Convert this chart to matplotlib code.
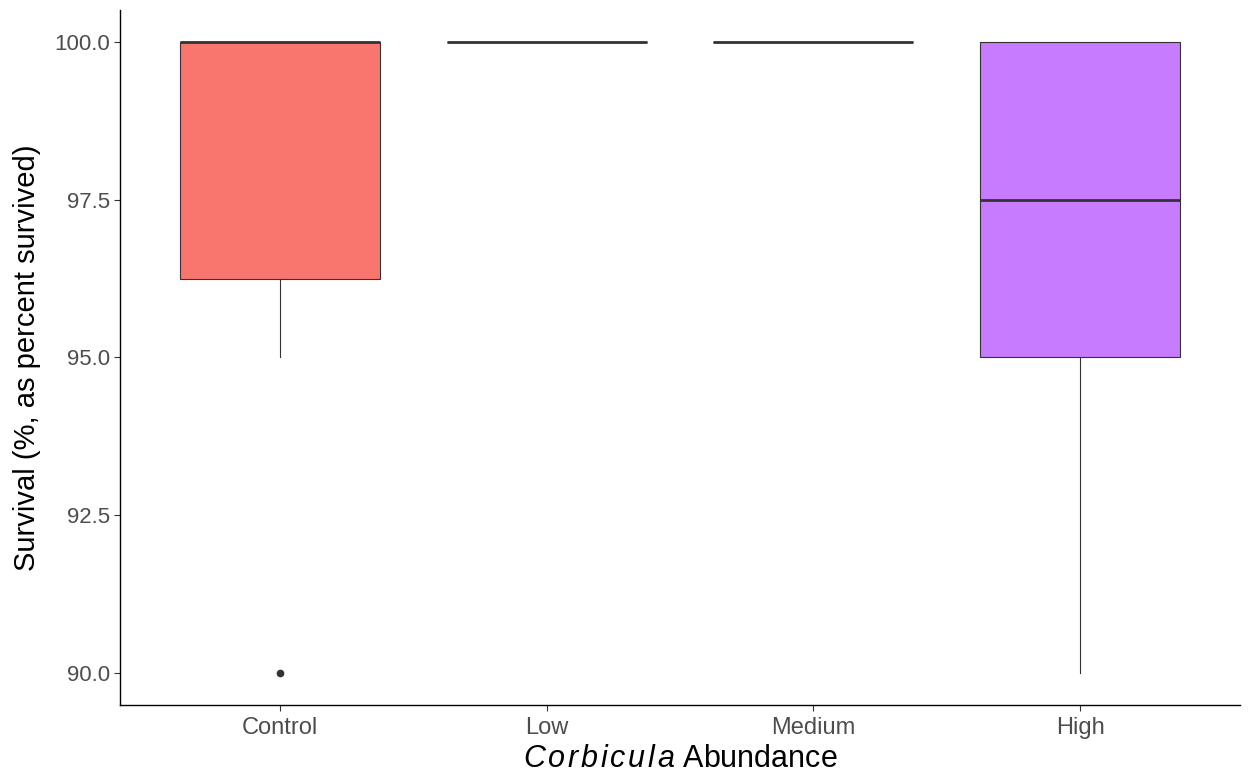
import matplotlib.pyplot as plt

plt.rcParams['font.family'] = ['Liberation Sans', 'DejaVu Sans']
plt.rcParams['mathtext.fontset'] = 'custom'
plt.rcParams['mathtext.it'] = 'Liberation Sans:italic'
plt.rcParams['mathtext.rm'] = 'Liberation Sans'

# box statistics
groups = ['Control', 'Low', 'Medium', 'High']
whislo = [95.0, 100.0, 100.0, 90.0]
q1 = [96.25, 100.0, 100.0, 95.0]
med = [100.0, 100.0, 100.0, 97.5]
q3 = [100.0, 100.0, 100.0, 100.0]
whishi = [100.0, 100.0, 100.0, 100.0]
fliers = [[90.0], [], [], []]
colors = ['#F8766D', '#7CAE00', '#00BFC4', '#C77CFF']

stats = []
for i in range(len(groups)):
    stats.append(dict(label=groups[i], whislo=whislo[i], q1=q1[i], med=med[i],
                      q3=q3[i], whishi=whishi[i], fliers=fliers[i]))

fig = plt.figure(figsize=(12.48, 7.78), dpi=100)
ax = fig.add_axes([0.0962, 0.094, 0.8974, 0.893])

bp = ax.bxp(stats, positions=[1, 2, 3, 4], widths=0.75, patch_artist=True,
            showcaps=False,
            boxprops=dict(edgecolor='#333333', linewidth=0.8),
            medianprops=dict(color='#333333', linewidth=2.0),
            whiskerprops=dict(color='#333333', linewidth=0.8),
            flierprops=dict(marker='o', markerfacecolor='#333333',
                            markeredgecolor='#333333', markersize=4.5))
for patch, c in zip(bp['boxes'], colors):
    patch.set_facecolor(c)

ax.set_xlim(0.4, 4.6)
ax.set_ylim(89.5, 100.5)
ax.set_yticks([90.0, 92.5, 95.0, 97.5, 100.0])
ax.set_yticklabels(['90.0', '92.5', '95.0', '97.5', '100.0'])
ax.set_xticks([1, 2, 3, 4])
ax.set_xticklabels(groups)
ax.tick_params(colors='#333333', labelcolor='#4D4D4D', length=4, width=0.8)
ax.tick_params(axis='x', labelsize=17, pad=5)
ax.tick_params(axis='y', labelsize=16)
for s in ['top', 'right']:
    ax.spines[s].set_visible(False)
for s in ['left', 'bottom']:
    ax.spines[s].set_linewidth(1.0)

# letter-spaced italic genus name, as in the original
genus = r'\hspace{0.11}'.join('Corbicula')
ax.set_ylabel('Survival (%, as percent survived)', fontsize=21, labelpad=9)
ax.set_xlabel(r'$\mathit{' + genus + r'}$ Abundance', fontsize=22, labelpad=3)

fig.savefig('out.png', dpi=100)
